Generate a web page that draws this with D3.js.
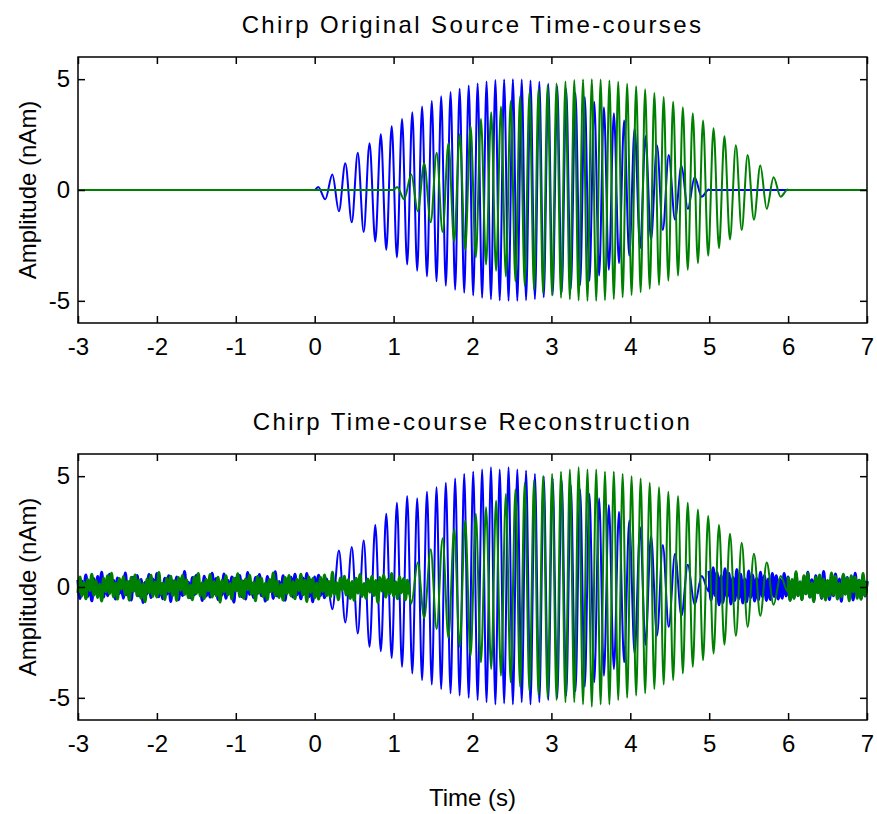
<!DOCTYPE html>
<html>
<head>
<meta charset="utf-8">
<script src="https://cdn.jsdelivr.net/npm/d3@7"></script>
<style>
body { margin: 0; background: #fff; }
text { font-family: "Liberation Sans", Arial, sans-serif; }
</style>
</head>
<body>
<div class="chart"></div>
<script>
const xTicks = [-3, -2, -1, 0, 1, 2, 3, 4, 5, 6, 7]
const yTicks = [-5, 0, 5]
const timeRange = [-3, 7]
const ampRange = [-6, 6]
const titles = ['Chirp Original Source Time-courses', 'Chirp Time-course Reconstruction']
const xLabel = 'Time (s)'
const yLabel = 'Amplitude (nAm)'

const blueOnset = 0
const greenOnset = 1
const chirpLength = 5

// times of each peak / trough, seconds after the chirp onset
const peakOffsets = [
    0.045,0.134,0.224,0.307,0.388,0.470,0.546,0.621,0.695,0.768,
    0.838,0.907,0.976,1.042,1.107,1.172,1.237,1.299,1.361,1.423,
    1.484,1.544,1.603,1.662,1.722,1.780,1.837,1.895,1.952,2.009,
    2.065,2.122,2.178,2.234,2.290,2.345,2.401,2.457,2.512,2.568,
    2.624,2.679,2.735,2.791,2.847,2.903,2.960,3.016,3.074,3.131,
    3.188,3.246,3.305,3.364,3.423,3.482,3.543,3.605,3.666,3.728,
    3.792,3.857,3.922,3.987,4.055,4.124,4.193,4.263,4.338,4.412,
    4.487,4.567,4.648,4.729,4.816,4.905,4.995
]

// source amplitude at those peaks (same waveform for both sources)
const sourcePeaks = [
    0.14,-0.42,0.70,-0.96,1.21,-1.46,1.68,-1.90,2.11,-2.32,
    2.51,-2.70,2.88,-3.04,3.20,-3.36,3.51,-3.64,3.77,-3.90,
    4.02,-4.12,4.23,-4.32,4.42,-4.50,4.57,-4.64,4.71,-4.76,
    4.81,-4.86,4.90,-4.93,4.96,-4.98,4.99,-5.00,5.00,-5.00,
    4.98,-4.97,4.94,-4.92,4.88,-4.84,4.79,-4.74,4.68,-4.61,
    4.54,-4.46,4.38,-4.29,4.19,-4.09,3.98,-3.86,3.73,-3.60,
    3.46,-3.30,3.14,-2.97,2.79,-2.62,2.43,-2.23,2.02,-1.81,
    1.58,-1.34,1.10,-0.85,0.58,-0.30,0.02
]

// reconstructed amplitudes at the same peaks (polarity comes out flipped)
const blueRecon = [
    -0.2,0.55,-1.0,1.65,-1.6,1.8,-2.1,2.1,-2.7,2.8,
    -2.9,3.3,-3.2,3.8,-3.6,4.1,-3.9,4.0,-4.2,4.3,
    -4.4,4.5,-4.6,4.7,-4.8,4.9,-4.9,5.1,-5.0,5.2,
    -5.1,5.3,-5.2,5.4,-5.3,5.3,-5.25,5.4,-5.3,5.3,
    -5.2,5.25,-5.3,5.1,-5.2,5.0,-5.1,4.9,-5.0,4.8,
    -4.9,4.6,-4.7,4.4,-4.5,4.2,-4.3,4.0,-4.0,3.7,
    -3.7,3.4,-3.4,3.0,-3.0,2.7,-2.6,2.3,-2.2,1.9,
    -1.8,1.5,-1.3,1.0,-0.8,0.5,-0.2
]
const greenRecon = [
    -0.15,0.4,-0.75,1.1,-1.4,1.7,-1.9,2.2,-2.3,2.6,
    -2.7,3.0,-3.1,3.3,-3.4,3.6,-3.7,3.9,-4.0,4.2,
    -4.3,4.4,-4.5,4.7,-4.7,4.8,-4.9,5.0,-5.0,5.1,
    -5.1,5.2,-5.2,5.3,-5.2,5.4,-5.3,5.3,-5.4,5.3,
    -5.3,5.2,-5.3,5.2,-5.1,5.1,-5.0,5.0,-4.9,4.9,
    -4.8,4.7,-4.6,4.5,-4.4,4.3,-4.2,4.1,-3.9,3.8,
    -3.6,3.5,-3.3,3.2,-3.0,2.8,-2.6,2.4,-2.2,2.0,
    -1.8,1.5,-1.3,1.1,-0.8,0.5,-0.2
]

// baseline noise of the reconstruction, one value every noiseStep seconds
const noiseStep = 0.025
const blueNoiseLeftStart = -3
const blueNoiseLeft = [
    0.32,-0.51,0.27,-0.18,0.54,-0.42,0.14,-0.62,0.38,-0.26,
    0.47,-0.33,0.66,-0.45,0.18,-0.39,0.57,-0.12,0.3,-0.54,
    0.4,-0.29,0.08,-0.5,0.63,-0.36,0.24,-0.58,0.44,-0.17,
    0.51,-0.4,0.33,-0.69,0.2,-0.3,0.56,-0.47,0.36,-0.22,
    0.6,-0.44,0.15,-0.52,0.39,-0.32,0.5,-0.65,0.28,-0.09,
    0.45,-0.57,0.35,-0.38,0.7,-0.27,0.21,-0.48,0.42,-0.35,
    0.53,-0.21,0.12,-0.6,0.48,-0.4,0.27,-0.45,0.62,-0.3,
    0.38,-0.56,0.17,-0.36,0.58,-0.5,0.3,-0.24,0.45,-0.68,
    0.39,-0.14,0.51,-0.42,0.26,-0.54,0.65,-0.33,0.18,-0.47,
    0.42,-0.29,0.56,-0.39,0.09,-0.63,0.47,-0.22,0.33,-0.51,
    0.68,-0.4,0.24,-0.3,0.5,-0.59,0.36,-0.18,0.44,-0.45,
    0.57,-0.35,0.15,-0.53,0.4,-0.27,0.6,-0.44,0.3,-0.66,
    0.45,-0.15,0.53,-0.38,0.22,-0.48,0.39
]
const blueNoiseRightStart = 5
const blueNoiseRight = [
    0.72,-0.58,0.86,-0.38,0.66,-0.8,0.5,-0.7,0.82,-0.44,
    0.62,-0.76,0.42,-0.6,0.78,-0.52,0.57,-0.72,0.36,-0.66,
    0.72,-0.47,0.54,-0.63,0.38,-0.57,0.66,-0.42,0.5,-0.6,
    0.36,-0.56,0.6,-0.42,0.5,-0.54,0.33,-0.5,0.6,-0.4,
    0.45,-0.57,0.27,-0.48,0.6,-0.38,0.21,-0.54,0.44,-0.3,
    0.66,-0.45,0.32,-0.6,0.5,-0.24,0.4,-0.51,0.7,-0.33,
    0.18,-0.56,0.45,-0.39,0.58,-0.27,0.36,-0.64,0.52,-0.3,
    0.42,-0.47,0.24,-0.58,0.62,-0.36,0.3,-0.52,0.46,-0.4,
    0.27
]
const greenNoiseLeftStart = -3
const greenNoiseLeft = [
    -0.27,0.45,-0.4,0.21,-0.53,0.33,-0.15,0.57,-0.36,0.29,-0.47,0.12,-0.63,0.4,-0.22,0.5,-0.3,0.62,-0.44,0.18,
    -0.54,0.38,-0.1,0.47,-0.35,0.26,-0.59,0.44,-0.2,0.54,-0.39,0.3,-0.5,0.14,-0.66,0.36,-0.26,0.53,-0.42,0.22,
    -0.45,0.65,-0.32,0.17,-0.56,0.39,-0.21,0.48,-0.38,0.27,-0.6,0.42,-0.14,0.51,-0.33,0.32,-0.48,0.09,-0.57,0.45,
    -0.29,0.6,-0.4,0.2,-0.51,0.35,-0.17,0.56,-0.45,0.24,-0.39,0.44,-0.68,0.3,-0.22,0.5,-0.36,0.15,-0.54,0.4,
    -0.18,0.59,-0.42,0.29,-0.5,0.36,-0.12,0.53,-0.32,0.21,-0.62,0.47,-0.26,0.39,-0.44,0.18,-0.56,0.33,-0.21,0.63,
    -0.38,0.27,-0.47,0.11,-0.59,0.42,-0.3,0.51,-0.4,0.23,-0.53,0.35,-0.15,0.57,-0.35,0.3,-0.65,0.45,-0.24,0.38,
    -0.48,0.17,-0.54,0.44,-0.2,0.54,-0.39,0.26,-0.45,0.66,-0.33,0.2,-0.57,0.4,-0.14,0.48,-0.36,0.32,-0.51,0.24,
    -0.6,0.39,-0.27,0.56,-0.42,0.15,-0.5,0.36,-0.23,0.47,-0.38,0.29,-0.69,0.42,-0.18,0.53,-0.45,0.33,-0.3,0.6,
    -0.4,0.23,-0.53,0.45,-0.26,0.38,-0.57,0.3,-0.33
]
const greenNoiseRightStart = 6
const greenNoiseRight = [
    0.45,-0.6,0.33,-0.51,0.68,-0.39,0.23,-0.57,0.5,-0.3,
    0.6,-0.45,0.18,-0.66,0.42,-0.26,0.54,-0.48,0.36,-0.58,
    0.29,-0.4,0.63,-0.35,0.47,-0.54,0.15,-0.44,0.57,-0.32,
    0.39,-0.62,0.5,-0.21,0.44,-0.5,0.3,-0.55,0.6,-0.38,
    0.24
]

const blue = '#0000ff'
const green = '#008000'

const svgWidth = 877
const svgHeight = 814
const panelLeft = 78
const panelWidth = 789
const panelHeight = 266
const panelTops = [57, 454]

const svg = d3.select('.chart')
    .append('svg')
    .attr('width', svgWidth)
    .attr('height', svgHeight)

const x = d3.scaleLinear()
    .domain(timeRange)
    .range([0, panelWidth])

const y = d3.scaleLinear()
    .domain(ampRange)
    .range([panelHeight, 0])

const line = d3.line()
    .x(d => x(d.t))
    .y(d => y(d.v))
    .curve(d3.curveMonotoneX)

const chirpPoints = (onset, values) => peakOffsets.map((o, i) => ({t: onset + o, v: values[i]}))
const noisePoints = (start, values) => values.map((v, i) => ({t: start + i * noiseStep, v: v}))

const sourceSeries = onset => ({
    points: [
        {t: timeRange[0], v: 0},
        {t: onset, v: 0},
        ...chirpPoints(onset, sourcePeaks),
        {t: onset + chirpLength, v: 0},
        {t: timeRange[1], v: 0}
    ],
    noise: []
})

const reconSeries = (onset, recon, leftStart, left, rightStart, right) => {
    const l = noisePoints(leftStart, left)
    const r = noisePoints(rightStart, right)
    const leftEnd = l[l.length - 1].t
    const mid = chirpPoints(onset, recon).filter(d => d.t > leftEnd && d.t < rightStart)
    return {points: [...l, ...mid, ...r], noise: [l, r]}
}

const panels = [
    [
        {color: blue, ...sourceSeries(blueOnset)},
        {color: green, ...sourceSeries(greenOnset)}
    ],
    [
        {color: blue, ...reconSeries(blueOnset, blueRecon, blueNoiseLeftStart, blueNoiseLeft, blueNoiseRightStart, blueNoiseRight)},
        {color: green, ...reconSeries(greenOnset, greenRecon, greenNoiseLeftStart, greenNoiseLeft, greenNoiseRightStart, greenNoiseRight)}
    ]
]

const styleAxis = sel => {
    sel.select('.domain').remove()
    sel.selectAll('line').attr('stroke', '#000').attr('stroke-width', 1.5)
    sel.selectAll('text')
        .attr('fill', '#000')
        .attr('font-size', 24)
        .attr('font-family', '"Liberation Sans", Arial, sans-serif')
}

panels.forEach((series, p) => {
    const g = svg.append('g')
        .attr('transform', `translate(${panelLeft},${panelTops[p]})`)

    series.forEach(s => {
        g.append('path')
            .datum(s.points)
            .attr('fill', 'none')
            .attr('stroke', s.color)
            .attr('stroke-width', 2)
            .attr('stroke-linejoin', 'round')
            .attr('d', line)

        // the noisy stretches are sampled much finer in the original, so they read as a solid band
        s.noise.forEach(n => {
            g.append('path')
                .datum(n)
                .attr('fill', 'none')
                .attr('stroke', s.color)
                .attr('stroke-width', 3.2)
                .attr('stroke-linejoin', 'round')
                .attr('d', line)
        })
    })

    g.append('g')
        .attr('transform', `translate(0,${panelHeight})`)
        .call(d3.axisBottom(x).tickValues(xTicks).tickSize(-7).tickPadding(15).tickFormat(d => String(d)))
        .call(styleAxis)

    g.append('g')
        .call(d3.axisTop(x).tickValues(xTicks).tickSize(-7).tickFormat(''))
        .call(styleAxis)

    g.append('g')
        .call(d3.axisLeft(y).tickValues(yTicks).tickSize(-7).tickPadding(8).tickFormat(d => String(d)))
        .call(styleAxis)

    g.append('g')
        .attr('transform', `translate(${panelWidth},0)`)
        .call(d3.axisRight(y).tickValues(yTicks).tickSize(-7).tickFormat(''))
        .call(styleAxis)

    g.append('rect')
        .attr('width', panelWidth)
        .attr('height', panelHeight)
        .attr('fill', 'none')
        .attr('stroke', '#000')
        .attr('stroke-width', 1.5)

    g.append('text')
        .attr('x', panelWidth / 2)
        .attr('y', -24)
        .attr('text-anchor', 'middle')
        .attr('font-size', 24)
        .attr('letter-spacing', 2.4)
        .text(titles[p])

    g.append('text')
        .attr('transform', `translate(${28 - panelLeft},${panelHeight / 2}) rotate(-90)`)
        .attr('text-anchor', 'middle')
        .attr('dy', '0.35em')
        .attr('font-size', 24)
        .text(yLabel)
})

svg.append('text')
    .attr('x', panelLeft + panelWidth / 2)
    .attr('y', 806)
    .attr('text-anchor', 'middle')
    .attr('font-size', 24)
    .text(xLabel)
</script>
</body>
</html>
